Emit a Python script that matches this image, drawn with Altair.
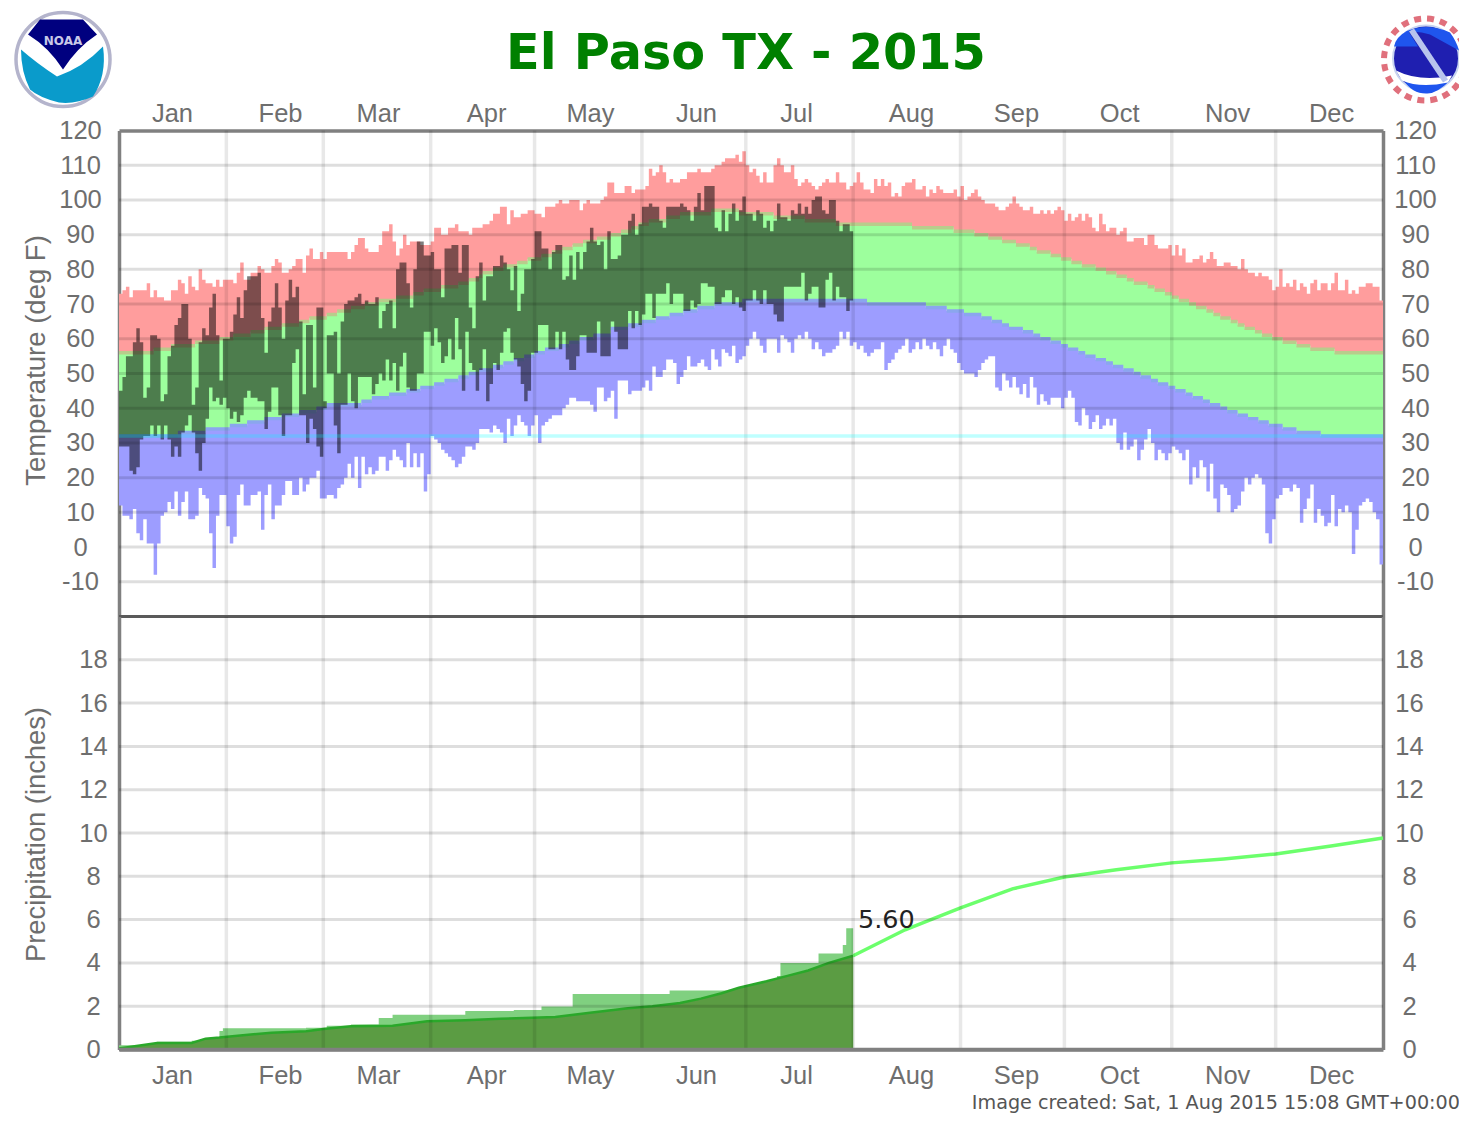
import altair as alt
import pandas as pd

TITLE = "El Paso TX - 2015"
MONTHS = ["Jan", "Feb", "Mar", "Apr", "May", "Jun", "Jul", "Aug", "Sep", "Oct", "Nov", "Dec"]
MONTH_LABEL_DAYS = [15.3, 46.5, 74.8, 106, 136, 166.6, 195.5, 228.7, 259, 288.8, 320, 350]
MONTH_STARTS = [31, 59, 90, 120, 151, 181, 212, 243, 273, 304, 334]
TEMP_TICKS = list(range(-10, 121, 10))
PRECIP_TICKS = list(range(0, 19, 2))
ACTUAL_PRECIP_LABEL = 5.60

RECORD_HIGH = [
    73,74,75,72,74,74,74,74,76,72, 74,72,72,71,71,74,74,77,76,73,
    78,75,74,80,77,76,76,75,77,75, 77,77,77,76,79,82,77,77,79,79,
    81,80,79,79,81,83,82,79,79,80, 81,83,83,79,84,86,83,83,85,83,
    85,85,85,85,85,85,83,85,87,89, 89,86,85,85,85,87,91,91,93,88,
    84,86,90,87,88,88,88,87,87,87, 88,92,92,90,90,92,92,93,91,91,
    91,90,92,92,92,93,93,94,96,96, 98,98,93,97,95,95,96,96,97,97,
    96,96,95,98,98,98,99,100,99,99, 100,100,100,97,99,100,99,99,99,100,
    101,105,105,102,102,102,104,104,102,103, 103,103,104,109,107,108,110,108,105,106,
    105,105,106,106,108,108,108,109,108,108, 108,109,110,110,111,112,112,112,113,111,
    114,110,108,109,107,105,108,105,105,110, 112,110,108,108,110,106,104,105,106,105,
    104,103,104,105,106,105,105,108,105,105, 103,104,105,108,105,103,103,102,106,104,
    106,104,105,101,102,101,104,105,105,106, 103,103,104,101,103,102,104,103,102,102,
    102,103,101,104,100,101,102,103,101,100, 99,99,99,98,97,97,98,99,101,99,
    98,97,97,98,96,96,97,96,97,96, 97,98,97,94,96,94,95,96,94,96,
    95,92,91,96,93,91,92,92,90,91, 92,88,88,89,89,89,87,90,90,87,
    86,86,86,87,84,87,84,86,82,82, 83,83,84,82,83,85,83,81,81,82,
    82,81,81,80,83,80,79,79,78,79, 78,78,77,74,75,80,75,76,75,77,
    74,76,75,73,76,77,74,76,76,74, 76,79,74,74,77,73,74,73,75,75,76,76,75,75,71,
]
RECORD_LOW = [
    12,9,9,8,11,4,2,8,1,1, -8,1,9,10,13,11,16,9,13,16,
    8,8,9,17,15,14,4,-6,9,15, 15,6,1,3,15,18,12,12,15,15,
    16,5,15,18,8,12,12,15,19,19, 15,15,20,16,18,20,20,22,14,14,
    15,15,14,17,18,20,24,20,26,17, 26,21,23,21,22,26,26,22,25,28,
    26,25,23,30,23,27,23,27,16,21, 32,31,30,28,27,26,25,23,24,26,
    29,29,28,30,34,34,34,33,35,34, 33,30,37,32,35,38,36,35,32,35,
    38,30,35,36,37,38,38,38,40,41, 43,43,42,42,42,42,41,39,46,46,
    42,43,45,37,48,48,48,44,45,45, 45,46,48,45,52,49,49,51,54,54,
    53,47,49,51,55,52,52,53,54,52, 51,57,54,52,57,56,55,58,53,54,
    55,58,60,62,60,58,56,60,60,60, 56,61,60,59,56,60,61,60,62,60,
    57,59,57,55,56,56,57,58,62,60, 62,58,59,57,58,56,55,56,57,57,
    59,51,53,54,56,57,58,60,56,57, 59,57,60,58,57,59,57,55,58,60,
    57,56,53,51,50,50,50,49,51,53, 54,55,55,46,45,50,48,46,49,46,
    44,47,43,49,46,41,44,42,41,43, 43,43,40,43,45,43,36,35,40,38,
    34,36,38,34,35,37,35,37,30,28, 33,28,29,31,25,28,31,34,30,25,
    28,27,25,27,29,28,27,25,28,18, 23,20,25,23,16,24,14,10,18,17,
    15,10,11,12,16,20,18,20,21,20, 18,4,1,8,14,15,17,17,16,18,
    17,7,11,14,18,7,11,9,6,7, 15,6,11,10,12,10,-2,5,12,13,14,13,10,8,-5,
]
ACTUAL_HIGH = [
    45,49,55,55,59,63,59,43,46,61, 61,60,42,44,55,58,64,66,70,70,
    60,41,46,59,63,61,69,73,61,48, 60,60,62,67,72,66,74,78,78,78,
    79,66,56,65,69,76,69,60,71,77, 72,75,65,44,64,64,46,69,69,42,
    61,61,62,50,65,70,71,71,72,73, 70,71,70,70,72,63,68,70,71,63,
    80,82,82,76,69,80,88,88,84,84, 85,80,80,72,86,86,87,87,79,87,
    87,69,63,78,82,71,78,78,81,81, 84,82,80,74,81,68,73,80,80,83,
    91,91,86,86,80,85,87,87,77,78, 84,77,85,80,85,88,92,88,87,88,
    80,91,83,83,84,90,90,94,96,90, 93,98,98,99,98,98,94,92,98,98,
    98,98,99,98,97,94,98,102,97,104, 104,104,92,91,97,91,96,99,94,97,
    101,96,96,94,97,96,92,94,91,94, 99,95,95,94,97,96,99,96,98,96,
    100,101,101,97,96,100,100,94,91,93,93,91,
]
ACTUAL_LOW = [
    29,29,29,22,21,23,31,32,32,35, 32,35,31,35,31,26,29,26,33,35,
    38,33,27,22,30,37,46,42,43,41, 43,40,37,39,36,38,43,45,43,43,
    42,42,34,39,46,46,38,32,38,38, 53,57,38,38,30,37,34,29,26,40,
    50,50,35,27,41,41,50,42,40,49, 49,49,49,44,47,50,48,54,48,53,
    45,52,56,46,45,45,50,50,62,62, 58,63,59,53,55,60,54,66,57,45,
    62,53,51,45,51,57,42,47,53,51, 56,62,63,56,54,52,47,42,45,56,
    56,64,64,64,57,57,62,57,62,54, 51,51,55,61,61,56,56,56,65,55,
    55,55,65,62,57,57,57,68,63,68, 64,67,73,73,66,73,73,73,76,70,
    73,73,73,68,68,71,69,70,76,76, 75,75,70,70,72,74,74,70,72,69,
    68,71,71,74,71,70,74,70,70,67, 65,65,75,75,75,75,75,79,71,73,
    75,75,69,69,77,79,71,75,72,72,68,71,
]
# Normals are drawn as integer steps in the source: first day of each step and its value.
NORMAL_HIGH_START = [0,10,15,22,29,33,38,42,47,52,55,60,63,67,71,75,80,85,88,93,98,101,104,105,108,111,115,118,122,125,128,131,134,138,142,145,148,150,153,158,162,171,179,189,198,207,229,241,247,251,255,259,263,265,269,272,275,278,282,285,288,291,293,297,299,302,304,306,309,311,314,316,318,321,323,325,328,330,333,336,340,344,351]
NORMAL_HIGH_VALUE = [56,57,58,59,60,61,62,63,64,65,66,67,68,69,70,71,72,73,74,75,76,77,78,79,80,81,82,83,84,85,86,87,88,89,90,91,92,93,94,95,96,97,96,95,94,93,92,91,90,89,88,87,86,85,84,83,82,81,80,79,78,77,76,75,74,73,72,71,70,69,68,67,66,65,64,63,62,61,60,59,58,57,56]
NORMAL_LOW_START = [0,17,25,32,37,42,47,52,57,60,70,73,78,83,87,91,94,98,101,104,108,111,114,117,120,123,127,130,133,137,142,147,151,155,159,163,167,172,180,216,233,239,244,249,252,255,257,261,264,266,269,272,274,277,279,282,285,287,290,293,295,298,300,303,305,308,310,313,315,318,320,323,326,329,332,336,340,347]
NORMAL_LOW_VALUE = [32,33,34,35,36,37,38,39,40,41,42,43,44,45,46,47,48,49,50,51,52,53,54,55,56,57,58,59,60,61,63,64,65,66,67,68,69,70,71,70,69,68,67,66,65,64,63,62,61,60,59,58,57,56,55,54,53,52,51,50,49,48,47,46,45,44,43,42,41,40,39,38,37,36,35,34,33,32]

PRECIP_STEP_DAY = [0,11,21,25,29,30,54,60,67,75,79,100,114,122,131,159,176,180,187,190,191,202,209,210,212]
PRECIP_STEP_VALUE = [0.20,0.36,0.40,0.53,0.85,0.98,1.00,1.10,1.15,1.45,1.60,1.78,1.82,1.99,2.56,2.73,2.76,2.90,3.20,3.40,4.00,4.43,4.83,5.60,5.60]
NORMAL_PRECIP_DAY = [0,11,21,25,29,35,44,54,59,67,79,89,100,110,126,136,147,154,162,168,174,179,187,193,199,205,212,227,243,258,273,288,304,319,334,350,365]
NORMAL_PRECIP_VALUE = [0.05,0.30,0.30,0.50,0.55,0.65,0.77,0.84,0.95,1.07,1.10,1.30,1.35,1.42,1.50,1.70,1.90,2.00,2.15,2.35,2.60,2.85,3.15,3.40,3.65,4.00,4.33,5.53,6.54,7.42,7.97,8.30,8.62,8.80,9.03,9.40,9.77]
CURRENT_DAY = 212


def expand(starts, values, n=365):
    out, k = [], 0
    for d in range(n):
        while k + 1 < len(starts) and starts[k + 1] <= d:
            k += 1
        out.append(values[k])
    return out


nh = expand(NORMAL_HIGH_START, NORMAL_HIGH_VALUE)
nl = expand(NORMAL_LOW_START, NORMAL_LOW_VALUE)
temps = pd.DataFrame({
    "day": list(range(366)),
    "rh": RECORD_HIGH + RECORD_HIGH[-1:],
    "rl": RECORD_LOW + RECORD_LOW[-1:],
    "nh": nh + nh[-1:],
    "nl": nl + nl[-1:],
})
temps["nh_top"] = temps.nh + 0.5
temps["nh_bot"] = temps.nh - 0.5
temps["nl_top"] = temps.nl + 0.5
temps["nl_bot"] = temps.nl - 0.5
actual = pd.DataFrame({
    "day": list(range(len(ACTUAL_HIGH) + 1)),
    "hi": ACTUAL_HIGH + ACTUAL_HIGH[-1:],
    "lo": ACTUAL_LOW + ACTUAL_LOW[-1:],
})
pr_step = pd.DataFrame({"day": PRECIP_STEP_DAY, "p": PRECIP_STEP_VALUE})
pr_norm = pd.DataFrame({"day": NORMAL_PRECIP_DAY, "p": NORMAL_PRECIP_VALUE})
pr_done = pr_norm[pr_norm.day <= CURRENT_DAY]
pr_todo = pr_norm[pr_norm.day >= CURRENT_DAY]

W, H1, H2 = 1264, 486, 433
FONT = "Liberation Sans"
GREY = "#6e6e6e"
BORDER = "#808080"
LS = 25.5

xs = alt.Scale(domain=[0, 365], nice=False, zero=False)
ys1 = alt.Scale(domain=[-20, 120], nice=False, zero=False)
ys2 = alt.Scale(domain=[0, 20], nice=False, zero=False)

names = "['" + "','".join(MONTHS) + "']"
day_list = "[" + ",".join(str(v) for v in MONTH_LABEL_DAYS) + "]"
month_expr = f"{names}[indexof({day_list}, datum.value)]"


def x_axis(orient, pad):
    return alt.Axis(orient=orient, values=MONTH_LABEL_DAYS, labelExpr=month_expr, ticks=False,
                    grid=False, title=None, domain=True, domainColor=BORDER, domainWidth=3.5,
                    labelFont=FONT, labelFontSize=LS, labelColor=GREY, labelPadding=pad,
                    labelOverlap=False, labelFlush=False)


def y_axis(orient, vals, pad):
    return alt.Axis(orient=orient, values=vals, ticks=False, grid=False, title=None, domain=True,
                    domainColor=BORDER, domainWidth=3.5, labelFont=FONT, labelFontSize=LS,
                    labelColor=GREY, labelPadding=pad, labelAlign="center", labelBaseline="middle",
                    labelOverlap=False, labelFlush=False, labelBound=False,
                    labelExpr="datum.value < 0 ? '-' + abs(datum.value) : '' + datum.value")


TOP_AXIS = x_axis("top", 4)
BOTTOM_AXIS = x_axis("bottom", 14)


def X(axis):
    return alt.X("day:Q", scale=xs, axis=axis)


def band(df, top, bottom, color, scale, xaxis, opacity=1.0, yaxis=None):
    return alt.Chart(df).mark_area(interpolate="step-after", color=color, opacity=opacity, strokeWidth=0).encode(
        x=X(xaxis), y=alt.Y(f"{top}:Q", scale=scale, axis=yaxis), y2=alt.Y2(f"{bottom}:Q"))


def vgrid(axis):
    return alt.Chart(pd.DataFrame({"day": MONTH_STARTS})).mark_rule(
        color="black", opacity=0.09, strokeWidth=3.5).encode(x=X(axis))


def hgrid(vals, scale):
    return alt.Chart(pd.DataFrame({"v": vals})).mark_rule(
        color="black", opacity=0.13, strokeWidth=3).encode(y=alt.Y("v:Q", scale=scale, axis=None))


def note(text, x, y, size, color=GREY, font=FONT, weight="normal", angle=0, align="center"):
    return alt.Chart(pd.DataFrame({"t": [text]})).mark_text(
        font=font, fontSize=size, color=color, fontWeight=weight, angle=angle, align=align,
        baseline="middle").encode(x=alt.value(x), y=alt.value(y), text="t:N")


def glyph(path, color, x, y):
    return alt.Chart(pd.DataFrame({"a": [0]})).mark_point(
        shape=path, filled=True, size=4, color=color, opacity=1, strokeWidth=0
    ).encode(x=alt.value(x), y=alt.value(y))


def ring(diam, x, y, fill, stroke, sw, dash=None):
    kw = {"strokeDash": dash} if dash else {}
    return alt.Chart(pd.DataFrame({"a": [0]})).mark_point(
        shape="circle", size=diam * diam, fill=fill, stroke=stroke, strokeWidth=sw, opacity=1, **kw
    ).encode(x=alt.value(x), y=alt.value(y))


# NOAA mark (panel coordinates: plot origin is at page 119,131)
nx, ny = 63 - 119, 60 - 131
noaa = [
    ring(94, nx, ny, "white", "#b4b4cc", 3.5),
    glyph("M-23,-40 L20,-40 L34,-25 Q14,-12 0,10 Q-14,-12 -35,-25 Z", "#00007f", nx, ny),
    glyph("M-42,-10 Q-26,4 -6,17 Q20,8 40,-13 Q44,16 30,37 Q12,45 -4,43 Q-24,38 -33,30 Q-42,12 -42,-10 Z", "#0a9bcb", nx, ny),
    note("NOAA", nx, ny - 19, 12, color="#c8c8e8", font="DejaVu Sans", weight="bold"),
]
# NWS mark
wx, wy = 1426 - 119, 59 - 131
nws = [
    ring(82, wx - 1, wy + 1, "white", "#e0707c", 6, dash=[7, 6]),
    ring(66, wx, wy, "#1f1fb0", "#c8d4f0", 2),
    glyph("M-22,-26 Q0,-37 24,-26 Q30,-18 33,-8 L4,-24 Q-8,-28 -22,-26 Z", "#1f55ee", wx, wy),
    glyph("M-32,-12 Q-30,-22 -18,-28 L-8,-12 Z", "#1f55ee", wx, wy),
    glyph("M-22,22 Q0,28 24,22 Q10,36 0,35 Q-14,35 -22,22 Z", "#1f55ee", wx, wy),
    glyph("M-30,12 Q-6,24 26,17 L22,24 Q-6,30 -24,22 Z", "white", wx, wy),
    glyph("M-17,-27 L-12,-30 L22,21 L17,24 Z", "#b8c4ee", wx, wy),
]

temp_layers = [
    band(temps, "rh", "nh", "#ff9d9d", ys1, TOP_AXIS, yaxis=y_axis("left", TEMP_TICKS, 39)),
    band(temps, "nh", "nl", "#9dff9d", ys1, TOP_AXIS),
    band(temps, "nl", "rl", "#9d9dff", ys1, TOP_AXIS),
    band(temps, "nh_top", "nh_bot", "#b9cc8c", ys1, TOP_AXIS),
    band(temps, "nl_top", "nl_bot", "#8ba6ee", ys1, TOP_AXIS),
    band(actual, "hi", "lo", "black", ys1, TOP_AXIS, opacity=0.51),
    hgrid([v for v in TEMP_TICKS if v != 120], ys1),
    vgrid(TOP_AXIS),
    alt.Chart(pd.DataFrame({"v": [32]})).mark_rule(color="#00ffff", opacity=0.25, strokeWidth=3.5).encode(
        y=alt.Y("v:Q", scale=ys1, axis=None)),
    alt.Chart(pd.DataFrame({"v": [-20]})).mark_rule(color="#5a5a5a", strokeWidth=3).encode(
        y=alt.Y("v:Q", scale=ys1, axis=y_axis("right", TEMP_TICKS, 32))),
    note("Temperature (deg F)", -82, 230, 27.5, angle=270),
    note(TITLE, 627, -77, 49.3, color="#008000", font="DejaVu Sans", weight="bold"),
    *noaa,
    *nws,
]
temp = alt.layer(*temp_layers).resolve_axis(y="independent").properties(width=W, height=H1)

label = pd.DataFrame({"day": [213.4], "p": [6.0], "t": [f"{ACTUAL_PRECIP_LABEL:.2f}"]})
precip_layers = [
    band(pr_step.assign(z=0), "p", "z", "#80d080", ys2, BOTTOM_AXIS, yaxis=y_axis("left", PRECIP_TICKS, 26)),
    alt.Chart(pr_done.assign(z=0)).mark_area(color="#5b9c43", strokeWidth=0).encode(
        x=X(BOTTOM_AXIS), y=alt.Y("p:Q", scale=ys2, axis=None), y2=alt.Y2("z:Q")),
    alt.Chart(pr_done).mark_line(color="#2aa82a", strokeWidth=2.5).encode(x=X(BOTTOM_AXIS), y=alt.Y("p:Q", scale=ys2, axis=None)),
    alt.Chart(pr_todo).mark_line(color="#6cff6c", strokeWidth=3.5).encode(x=X(BOTTOM_AXIS), y=alt.Y("p:Q", scale=ys2, axis=None)),
    hgrid([v for v in PRECIP_TICKS if v != 0], ys2),
    vgrid(BOTTOM_AXIS),
    alt.Chart(pd.DataFrame({"v": [0]})).mark_rule(color=BORDER, strokeWidth=3.5).encode(
        y=alt.Y("v:Q", scale=ys2, axis=y_axis("right", PRECIP_TICKS, 26))),
    alt.Chart(label).mark_text(font="DejaVu Sans", fontSize=25.5, color="#222222", align="left", baseline="middle").encode(
        x=X(BOTTOM_AXIS), y=alt.Y("p:Q", scale=ys2, axis=None), text="t:N"),
    note("Precipitation (inches)", -82, 218, 27.3, angle=270),
    note("Image created: Sat, 1 Aug 2015 15:08 GMT+00:00", 1341, 486, 19.2, color="#555555", font="DejaVu Sans", align="right"),
]
precip = alt.layer(*precip_layers).resolve_axis(y="independent").properties(width=W, height=H2)

chart = alt.vconcat(temp, precip, spacing=0, bounds="flush").properties(
    padding={"left": 1, "top": -2.5, "right": -19, "bottom": 0}, background="white"
).configure_view(stroke=None)

chart.save("out.html", embed_options={"renderer": "svg", "actions": False})
